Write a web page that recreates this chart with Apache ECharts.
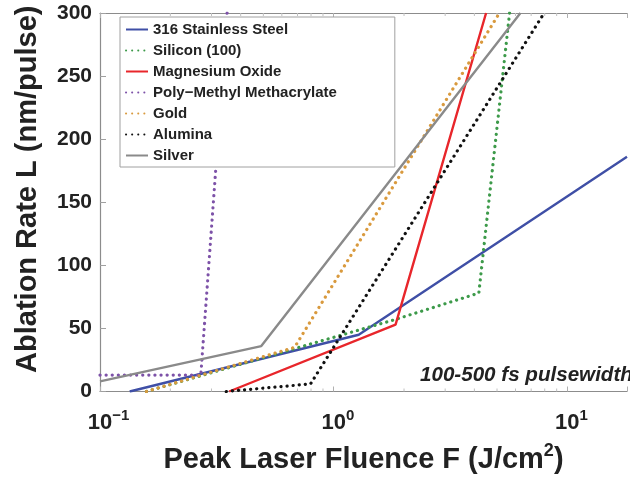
<!DOCTYPE html>
<html>
<head>
<meta charset="utf-8">
<script src="https://cdn.jsdelivr.net/npm/echarts@6/dist/echarts.min.js"></script>
<style>
  html, body { margin: 0; padding: 0; background: #fff; }
  #chart { width: 630px; height: 479px; }
</style>
</head>
<body>
<div id="chart"></div>
<script>
// Ablation rate L (nm/pulse) versus peak laser fluence F (J/cm^2), piecewise fits
const seriesNames = [
  '316 Stainless Steel',
  'Silicon (100)',
  'Magnesium Oxide',
  'Poly\u2212Methyl Methacrylate',
  'Gold',
  'Alumina',
  'Silver'
];
const steel   = [[0.134, 0], [1.28, 45], [18, 186]];
const silicon = [[0.158, 0], [1.83, 57], [4.18, 78], [5.66, 300]];
const mgo     = [[0.357, 0], [1.84, 53], [4.49, 300]];
const pmma    = [[0.1, 13], [0.27, 13], [0.35, 300]];
const gold    = [[0.158, 0], [0.68, 35], [5.12, 300]];
const alumina = [[0.347, 0], [0.796, 6], [7.96, 300]];
const silver  = [[0.1, 8], [0.49, 36], [6.3, 300]];

const xMin = 0.1, xMax = 18;
const yMin = 0, yMax = 300, yStep = 50;
const xMajorExponents = [-1, 0, 1];
const xMinorTicks = [0.2, 0.3, 0.4, 0.5, 0.6, 0.7, 0.8, 0.9, 2, 3, 4, 5, 6, 7, 8, 9];

const chart = echarts.init(document.getElementById('chart'), null, { renderer: 'canvas' });

const FONT = '"Liberation Sans", Arial, Helvetica, sans-serif';
const dotted = [0.1, 6];

function lineSeries(name, data, color, dash) {
  return {
    name: name,
    type: 'line',
    data: data,
    showSymbol: false,
    symbol: 'none',
    clip: true,
    lineStyle: {
      color: color,
      width: dash ? 3.2 : 2.4,
      type: dash ? dotted : 'solid',
      cap: dash ? 'round' : 'butt'
    },
    itemStyle: { color: color },
    emphasis: { disabled: true },
    animation: false
  };
}

function expLabel(v) {
  const e = Math.round(Math.log10(v));
  if (Math.abs(Math.log10(v) - e) > 1e-6 || xMajorExponents.indexOf(e) < 0) return '';
  const sup = e < 0 ? '\u2212' + (-e) : String(e);
  return '{h|' + sup + '}{b|10}{s|' + sup + '}';
}

const option = {
  backgroundColor: '#ffffff',
  animation: false,
  grid: { left: 100, right: 0, top: 13, bottom: 85, containLabel: false },
  legend: {
    data: seriesNames,
    orient: 'vertical',
    left: 120,
    top: 17,
    itemWidth: 22,
    itemHeight: 14,
    itemGap: 6,
    padding: [5, 58, 4, 5],
    backgroundColor: '#ffffff',
    borderColor: '#a0a0a0',
    borderWidth: 1,
    selectedMode: false,
    itemStyle: { opacity: 0 },
    textStyle: { fontFamily: FONT, fontSize: 15, fontWeight: 'bold', color: '#222', lineHeight: 14 },
    z: 10
  },
  xAxis: [
    {
      type: 'log',
      logBase: 10,
      min: xMin,
      max: xMax,
      position: 'bottom',
      name: '{a|Peak Laser Fluence F (J/cm}{s|2}{a|)}',
      nameLocation: 'middle',
      nameGap: 51,
      nameTextStyle: {
        rich: {
          a: { fontFamily: FONT, fontSize: 29, fontWeight: 'bold', color: '#222' },
          s: { fontFamily: FONT, fontSize: 18, fontWeight: 'bold', color: '#222', padding: [0, 0, 16, 0] }
        }
      },
      axisLine: { show: true, lineStyle: { color: '#8c8c8c', width: 1.2 } },
      axisTick: { show: true, inside: true, length: 5, lineStyle: { color: '#b0b0b0' } },
      splitLine: { show: false },
      axisLabel: {
        margin: 17,
        formatter: expLabel,
        rich: {
          h: { fontFamily: FONT, fontSize: 15, fontWeight: 'bold', color: 'rgba(0,0,0,0)' },
          b: { fontFamily: FONT, fontSize: 22, fontWeight: 'bold', color: '#222' },
          s: { fontFamily: FONT, fontSize: 15, fontWeight: 'bold', color: '#222', padding: [0, 0, 14, 0] }
        }
      }
    },
    {
      type: 'log',
      logBase: 10,
      min: xMin,
      max: xMax,
      position: 'top',
      axisLine: { show: true, lineStyle: { color: '#8c8c8c', width: 1.2 } },
      axisTick: { show: true, inside: true, length: 5, lineStyle: { color: '#b0b0b0' } },
      axisLabel: { show: false },
      splitLine: { show: false }
    }
  ],
  yAxis: {
    type: 'value',
    min: yMin,
    max: yMax,
    interval: yStep,
    name: 'Ablation Rate L (nm/pulse)',
    nameLocation: 'middle',
    nameGap: 58,
    nameTextStyle: {
      fontFamily: FONT, fontSize: 29, fontWeight: 'bold', color: '#222',
      padding: [0, 0, 0, 26]
    },
    axisLine: { show: true, lineStyle: { color: '#8c8c8c', width: 1.2 } },
    axisTick: { show: true, inside: true, length: 6, lineStyle: { color: '#a0a0a0' } },
    splitLine: { show: false },
    axisLabel: { margin: 8, fontFamily: FONT, fontSize: 21, fontWeight: 'bold', color: '#222' }
  },
  graphic: [
    {
      type: 'text',
      left: 420,
      top: 365,
      style: {
        text: '100-500 fs pulsewidth',
        font: 'italic bold 20.6px ' + FONT,
        fill: '#222'
      },
      z: 5
    }
  ],
  series: [
    lineSeries(seriesNames[0], steel, '#3f4fa6', false),
    lineSeries(seriesNames[1], silicon, '#3d9a4a', true),
    lineSeries(seriesNames[2], mgo, '#e8262b', false),
    lineSeries(seriesNames[3], pmma, '#7d52a8', true),
    lineSeries(seriesNames[4], gold, '#d99a3e', true),
    lineSeries(seriesNames[5], alumina, '#111111', true),
    lineSeries(seriesNames[6], silver, '#8a8a8a', false),
    {
      // minor log ticks on the bottom and top frame lines
      type: 'custom',
      silent: true,
      animation: false,
      data: xMinorTicks,
      renderItem: function (params, api) {
        const v = api.value(0);
        const b = api.coord([v, yMin]);
        const t = api.coord([v, yMax]);
        const st = { stroke: '#c0c0c0', lineWidth: 1 };
        return {
          type: 'group',
          children: [
            { type: 'line', shape: { x1: b[0], y1: b[1], x2: b[0], y2: b[1] - 3 }, style: st },
            { type: 'line', shape: { x1: t[0], y1: t[1], x2: t[0], y2: t[1] + 3 }, style: st }
          ]
        };
      },
      encode: { x: 0 },
      z: 1
    }
  ]
};

chart.setOption(option);
</script>
</body>
</html>
